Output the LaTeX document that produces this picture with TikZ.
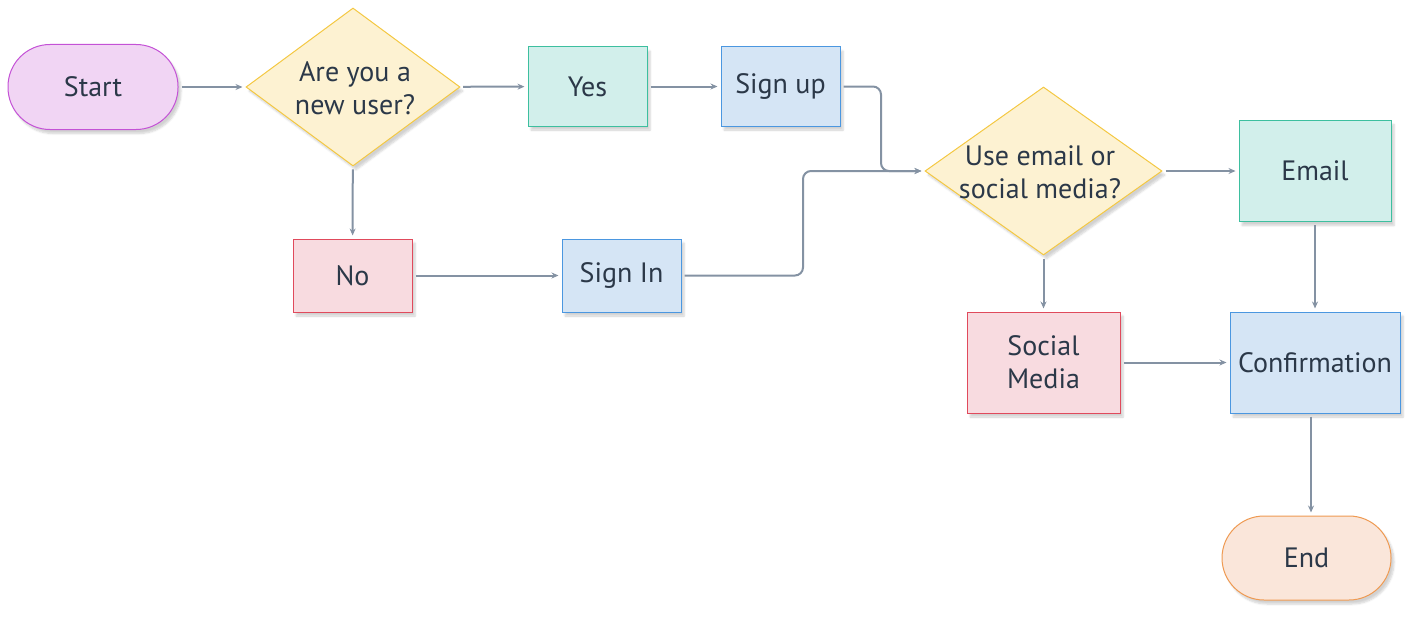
\documentclass[tikz,border=0pt]{standalone}
\usepackage{fontspec}
\setmainfont{PT Sans}
\usetikzlibrary{shapes.geometric,arrows.meta,shadows.blur}
\definecolor{txt}{HTML}{2B3848}
\definecolor{ln}{HTML}{8492A3}
\definecolor{pF}{HTML}{F1D5F4}\definecolor{pB}{HTML}{C452D6}
\definecolor{yF}{HTML}{FDF2D2}\definecolor{yB}{HTML}{F4C842}
\definecolor{tF}{HTML}{D2EFEB}\definecolor{tB}{HTML}{3DBF9F}
\definecolor{bF}{HTML}{D5E5F5}\definecolor{bB}{HTML}{4B97E0}
\definecolor{rF}{HTML}{F8DBE0}\definecolor{rB}{HTML}{E04A5C}
\definecolor{oF}{HTML}{FAE6DA}\definecolor{oB}{HTML}{EF9A52}
\tikzset{
  shad/.style={blur shadow={shadow xshift=3pt,shadow yshift=-4pt,shadow blur steps=6,shadow opacity=18}},
  base/.style={draw,line width=1pt,shad,text=txt,align=center,inner sep=0pt,font=\fontsize{28}{33}\selectfont},
  term/.style={base,rectangle,rounded corners=42pt,minimum width=170pt,minimum height=85pt},
  box/.style={base,rectangle,minimum width=119pt,minimum height=79pt},
  bigbox/.style={base,rectangle,minimum height=101pt},
  dia/.style={base,diamond,inner sep=0pt},
  lbl/.style={text=txt,align=center,inner sep=0pt,font=\fontsize{28}{33}\selectfont},
  conn/.style={draw=ln,line width=2pt,rounded corners=8pt,shorten <=3pt,shorten >=3pt,-{Stealth[length=7pt,width=6pt]}}
}
\begin{document}
\begin{tikzpicture}[x=1pt,y=-1pt]
\useasboundingbox (0,0) rectangle (1418,618);
\node[term,fill=pF,draw=pB] (start) at (93,87) {Start};
\node[dia,fill=yF,draw=yB,minimum width=214pt,minimum height=158pt] (d1) at (353,87) {};
\node[lbl] (d1t) at (355,88) {Are you a\\new user?};
\node[box,fill=tF,draw=tB] (yes) at (587.5,86.5) {Yes};
\node[box,fill=bF,draw=bB] (su) at (780.5,86.5) {Sign up};
\node[box,fill=rF,draw=rB,minimum height=73pt] (no) at (352.5,275.5) {No};
\node[box,fill=bF,draw=bB,minimum height=73pt] (si) at (621.5,275.5) {Sign In};
\node[dia,fill=yF,draw=yB,minimum width=237pt,minimum height=168pt] (d2) at (1043.5,171) {};
\node[lbl] (d2t) at (1040,172) {Use email or\\social media?};
\node[bigbox,fill=tF,draw=tB,minimum width=152pt] (em) at (1315,171) {Email};
\node[bigbox,fill=rF,draw=rB,minimum width=153pt] (sm) at (1043.5,362.5) {Social\\Media};
\node[bigbox,fill=bF,draw=bB,minimum width=170pt] (conf) at (1315,362.5) {Confirmation};
\node[term,fill=oF,draw=oB,minimum width=169pt,minimum height=84pt] (en) at (1306.5,558) {End};
\coordinate (j1) at (881,171);
\coordinate (j2) at (803,171);
\draw[conn] (start) -- (d1);
\draw[conn] (d1) -- (yes);
\draw[conn] (yes) -- (su);
\draw[conn] (d1) -- (no);
\draw[conn] (no) -- (si);
\draw[conn] (su.east) -| (j1) -- (d2.west);
\draw[conn] (si.east) -| (j2) -- (d2.west);
\draw[conn] (d2) -- (em);
\draw[conn] (d2) -- (sm);
\draw[conn] (em) -- (conf);
\draw[conn] (sm) -- (conf);
\draw[conn] ([xshift=-4pt]conf.south) -- ([xshift=-4pt]conf.south |- en.north);
\end{tikzpicture}
\end{document}
